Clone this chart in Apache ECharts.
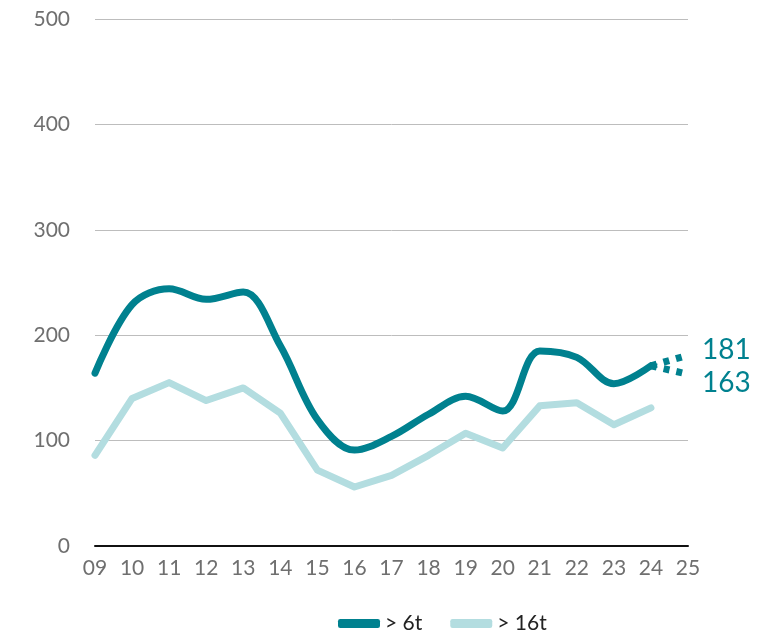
<!DOCTYPE html>
<html lang="en">
<head>
    <meta charset="utf-8">
    <title>Trucks</title>
    <script src="https://cdn.jsdelivr.net/npm/echarts@6/dist/echarts.min.js"></script>
</head>
<body style="margin:0">
    <div id="main" style="width:780px;height:641px;"></div>
    <script type="text/javascript">
    var years = ['09','10','11','12','13','14','15','16','17','18','19','20','21','22','23','24','25'];
    var over6t = [164, 229, 244, 234, 241, 190, 120, 91, 104, 125, 142, 128, 185, 179, 154, 171, null];
    var over16t = [86, 140, 155, 138, 150, 126, 72, 56, 67, 86, 107, 93, 133, 136, 115, 131, null];
    var forecastHigh = [null,null,null,null,null,null,null,null,null,null,null,null,null,null,null,171,181];
    var forecastLow = [null,null,null,null,null,null,null,null,null,null,null,null,null,null,null,171,163];

    var dark = '#00818f', light = '#b3dde0', grey = '#6f6f6f';
    var font = 'Lato';

    var myChart = echarts.init(document.getElementById('main'));

    // label for the last point of a forecast line
    function endLabel(offsetY) {
        return {
            show: true,
            formatter: function (p) { return p.dataIndex === years.length - 1 ? p.value : ''; },
            position: 'right',
            distance: 14,
            offset: [0, offsetY],
            color: dark,
            fontSize: 28,
            fontFamily: font
        };
    }

    myChart.setOption({
        animation: false,
        grid: { left: 95, right: 92, top: 19, bottom: 95 },
        legend: {
            data: ['> 6t', '> 16t'],
            bottom: 2,
            left: 333,
            icon: 'roundRect',
            itemWidth: 42,
            itemHeight: 9,
            itemGap: 28,
            textStyle: { color: '#222', fontSize: 21, fontFamily: font }
        },
        xAxis: {
            type: 'category',
            data: years,
            boundaryGap: false,
            axisLine: { lineStyle: { color: '#111', width: 2 } },
            axisTick: { show: false },
            axisLabel: { color: grey, fontSize: 21, fontFamily: font, margin: 12 }
        },
        yAxis: {
            type: 'value',
            min: 0,
            max: 500,
            interval: 100,
            axisLine: { show: false },
            axisTick: { show: false },
            axisLabel: { color: grey, fontSize: 21, fontFamily: font, margin: 25 },
            splitLine: { lineStyle: { color: '#bdbdbd', width: 1 } }
        },
        series: [{
            name: '> 16t',
            type: 'line',
            data: over16t,
            symbol: 'none',
            lineStyle: { color: light, width: 7, cap: 'round', join: 'round' },
            itemStyle: { color: light }
        }, {
            name: '> 6t',
            type: 'line',
            data: over6t,
            smooth: 0.35,
            symbol: 'none',
            lineStyle: { color: dark, width: 7, cap: 'round', join: 'round' },
            itemStyle: { color: dark }
        }, {
            name: 'high',
            type: 'line',
            data: forecastHigh,
            symbol: 'circle',
            symbolSize: 0.1,
            lineStyle: { color: dark, width: 7, type: [6, 7] },
            itemStyle: { color: dark },
            label: endLabel(-5)
        }, {
            name: 'low',
            type: 'line',
            data: forecastLow,
            symbol: 'circle',
            symbolSize: 0.1,
            lineStyle: { color: dark, width: 7, type: [6, 7] },
            itemStyle: { color: dark },
            label: endLabel(9)
        }]
    });
    </script>
</body>
</html>
